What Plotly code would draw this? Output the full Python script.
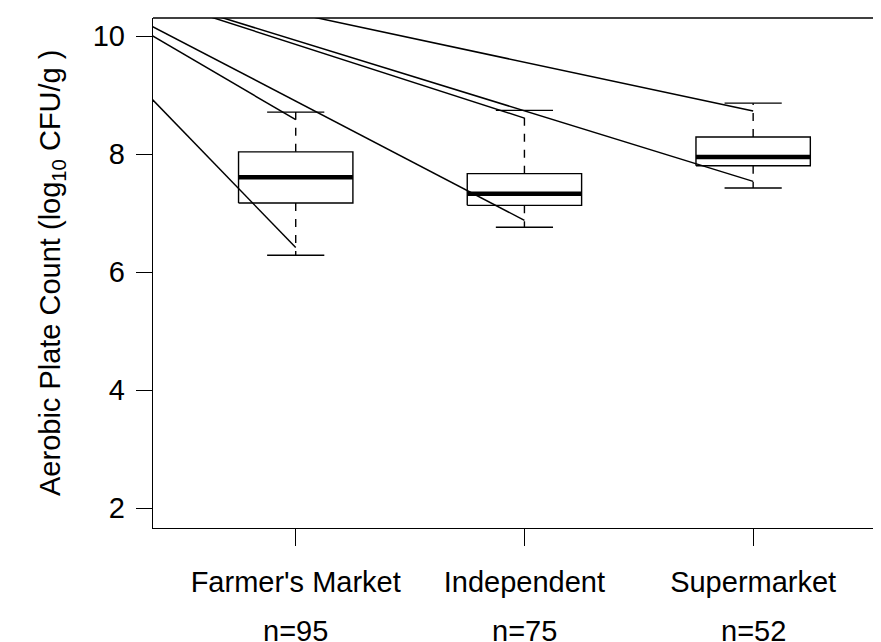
import plotly.graph_objects as go

# ---- data ----
categories = ["Farmer's Market", "Independent", "Supermarket"]
positions = [1, 2, 3]
n_labels = ["n=95", "n=75", "n=52"]
lower_whisker = [6.283, 6.758, 7.423]
q1 = [7.169, 7.130, 7.802]
median = [7.604, 7.328, 7.948]
q3 = [8.036, 7.667, 8.287]
upper_whisker = [8.710, 8.739, 8.862]

# lines converging from a common off-plot origin toward the whisker ends
line_origin = (-0.25, 11.42)
line_tip_lower = [6.414, 6.876, 7.536]
line_tip_upper = [8.581, 8.608, 8.727]

y_ticks = [2, 4, 6, 8, 10]

# ---- style ----
FONT = "Arial, Liberation Sans, Helvetica, sans-serif"
FS = 29
BOX_HW = 0.25
CAP_HW = 0.125
LW = 1.4

fig = go.Figure()

# diagonal lines
for i, p in enumerate(positions):
    for tip in (line_tip_lower[i], line_tip_upper[i]):
        fig.add_trace(go.Scatter(x=[line_origin[0], p], y=[line_origin[1], tip],
                                 mode="lines", line=dict(color="black", width=1.5),
                                 hoverinfo="skip", showlegend=False))

for i, p in enumerate(positions):
    # box
    fig.add_trace(go.Scatter(
        x=[p - BOX_HW, p + BOX_HW, p + BOX_HW, p - BOX_HW, p - BOX_HW],
        y=[q1[i], q1[i], q3[i], q3[i], q1[i]],
        mode="lines", line=dict(color="black", width=LW),
        hoverinfo="skip", showlegend=False))
    # median
    fig.add_trace(go.Scatter(x=[p - BOX_HW, p + BOX_HW], y=[median[i], median[i]],
                             mode="lines", line=dict(color="black", width=4.5),
                             hoverinfo="skip", showlegend=False))
    # whiskers (dashed)
    fig.add_trace(go.Scatter(x=[p, p], y=[q3[i], upper_whisker[i]], mode="lines",
                             line=dict(color="black", width=LW, dash="8px,8px"),
                             hoverinfo="skip", showlegend=False))
    fig.add_trace(go.Scatter(x=[p, p], y=[q1[i], lower_whisker[i]], mode="lines",
                             line=dict(color="black", width=LW, dash="8px,8px"),
                             hoverinfo="skip", showlegend=False))
    # caps
    for w in (upper_whisker[i], lower_whisker[i]):
        fig.add_trace(go.Scatter(x=[p - CAP_HW, p + CAP_HW], y=[w, w], mode="lines",
                                 line=dict(color="black", width=LW),
                                 hoverinfo="skip", showlegend=False))

# n labels
for p, t in zip(positions, n_labels):
    fig.add_annotation(x=p, xref="x", y=0, yref="paper", yanchor="middle",
                       yshift=-103, text=t, showarrow=False,
                       font=dict(family=FONT, size=FS, color="black"))

# y title
fig.add_annotation(x=0, xref="paper", y=0.5, yref="paper", xshift=-101,
                   xanchor="center", yanchor="middle", textangle=-90, showarrow=False,
                   text="Aerobic Plate Count (log<sub>10</sub> CFU/g )",
                   font=dict(family=FONT, size=FS, color="black"))

# top border
fig.add_shape(type="line", xref="paper", yref="paper", x0=0, x1=1, y0=1, y1=1,
              line=dict(color="black", width=LW))

fig.update_layout(
    width=873, height=634,
    margin=dict(l=145, r=0, t=10, b=114, autoexpand=False),
    paper_bgcolor="white", plot_bgcolor="white",
    font=dict(family=FONT, size=FS, color="black"),
    xaxis=dict(range=[0.376, 3.559], tickmode="array", tickvals=positions,
               ticktext=categories, ticks="outside", ticklen=17, tickwidth=LW,
               tickcolor="black", showline=True, linecolor="black", linewidth=LW,
               showgrid=False, zeroline=False, ticklabelstandoff=11,
               automargin=False),
    yaxis=dict(range=[1.661, 10.305], tickmode="array", tickvals=y_ticks,
               ticks="outside", ticklen=16, tickwidth=LW, tickcolor="black",
               showline=True, linecolor="black", linewidth=LW,
               showgrid=False, zeroline=False, ticklabelstandoff=5,
               automargin=False),
)

fig.write_html("out.html")
